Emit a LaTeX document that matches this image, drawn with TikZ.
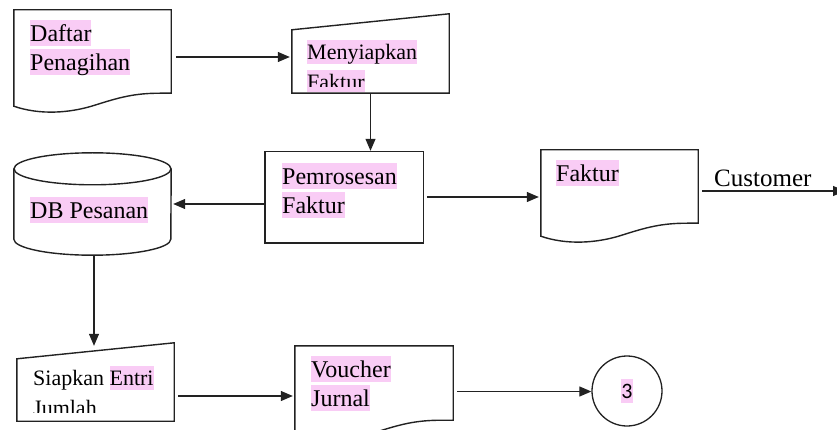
\documentclass[tikz,border=0pt]{standalone}
\usepackage{fontspec}
\setmainfont{Liberation Serif}
\newfontfamily\numfont{Carlito}
\usetikzlibrary{calc,arrows.meta}

\definecolor{hlpink}{HTML}{F9CCF5}
\definecolor{ink}{HTML}{222222}

% highlighted line and plain line share the same strut
\newcommand{\hlbox}[1]{{\setlength{\fboxsep}{0pt}\colorbox{hlpink}{\rule[-0.22em]{0pt}{1.09em}#1}}}
\newcommand{\plainln}[1]{\rule[-0.22em]{0pt}{1.09em}#1}

% document symbol with wavy bottom edge
\newcommand{\docoutline}[1]{%
  \draw[outline] ($(#1.south west)+(0,13)$) -- (#1.north west) -- (#1.north east)
    -- (#1.south east) -- ($(#1.south east)+(-11,0)$)
    .. controls ($(#1.south west)+(121,0)$) and ($(#1.south west)+(106,4)$) .. ($(#1.south west)+(81,12)$)
    .. controls ($(#1.south west)+(56,20)$) and ($(#1.south west)+(26,22)$) .. ($(#1.south west)+(0,13)$)
    -- cycle;}
% manual input symbol (sloped top edge)
\newcommand{\manualoutline}[1]{%
  \draw[outline] ($(#1.north west)+(0,16)$) -- (#1.north east) -- (#1.south east)
    -- (#1.south west) -- cycle;}

\tikzset{
  outline/.style={draw=ink, line width=1.4pt},
  body/.style={inner sep=0, minimum width=#1},
  conn/.style={draw=ink, line width=1.2pt, -{Triangle[length=12pt,width=10pt]}},
  lbl/.style={anchor=north west, inner sep=0, align=left, font=\fontsize{24}{29}\selectfont},
  lblsm/.style={lbl, font=\fontsize{22}{30}\selectfont}
}

\begin{document}
\begin{tikzpicture}[x=1pt, y=-1pt]
\useasboundingbox (0,0) rectangle (837,430);
\clip (0,0) rectangle (837,430);

% shape bodies
\node[body=157pt, minimum height=83pt] (daftar) at (92.5,51.5) {};
\node[body=157pt, minimum height=79pt] (menyi)  at (370.5,53.5) {};
\node[body=158pt, minimum height=91pt] (pemro)  at (344,197.5) {};
\node[body=157pt, minimum height=102pt] (db)    at (92.5,204) {};
\node[body=157pt, minimum height=73pt] (faktur) at (619.5,186.5) {};
\node[body=157pt, minimum height=78pt] (siap)   at (95.5,382) {};
\node[body=158pt, minimum height=74pt] (vouch)  at (374,383) {};
\node[circle, draw=ink, line width=1.3pt, minimum size=70pt, inner sep=0] (c3) at (627,391)
  {\numfont\fontsize{22}{26}\selectfont\hlbox{3}};

% outlines
\docoutline{daftar}
\manualoutline{menyi}
\draw[outline] (pemro.north west) rectangle (pemro.south east);
\docoutline{faktur}
\manualoutline{siap}
\docoutline{vouch}
\draw[outline] ($(db.north)+(0,16)$) ellipse[x radius=78.5, y radius=16];
\draw[outline] ($(db.north west)+(0,16)$) -- ($(db.south west)+(0,-16)$)
  arc[start angle=180, end angle=0, x radius=78.5, y radius=16]
  -- ($(db.north east)+(0,16)$);

% labels
\node[lbl] (daftarTxt) at (30,20) {\hlbox{Daftar}\\\hlbox{Penagihan}};
\begin{scope}
  \clip (292,14) rectangle (449,87.5);
  \node[lblsm] (menyiTxt) at (307,40) {\hlbox{Menyiapkan}\\\hlbox{Faktur}};
\end{scope}
\fill[hlpink] (307,87.5) rectangle (364.5,92.3);
\node[lbl] (pemroTxt) at (282,163) {\hlbox{Pemrosesan}\\\hlbox{Faktur}};
\node[lbl] (dbTxt) at (30,197) {\hlbox{DB Pesanan}};
\node[lbl] (fakturTxt) at (556,160) {\hlbox{Faktur}};
\begin{scope}
  \clip (17,343) rectangle (174,412.5);
  \node[lblsm] (siapTxt) at (33,366) {\plainln{Siapkan }\hlbox{Entri}\\\plainln{Jumlah}};
\end{scope}
\node[lbl] (vouchTxt) at (311,356) {\hlbox{Voucher}\\\hlbox{Jurnal}};

% connectors
\draw[conn] ($(daftar.east)+(5,5.5)$) -- ($(daftar.east -| menyi.west)+(-2,5.5)$);
\draw[conn] (menyi.south) -- ($(pemro.north -| menyi.south)+(0,-1)$);
\draw[conn] ($(pemro.west)+(0,6.5)$) -- ($(pemro.west -| db.east)+(2,6.5)$);
\draw[conn] ($(pemro.east)+(4,-0.5)$) -- ($(pemro.east -| faktur.west)+(-2,-0.5)$);
\coordinate (custEnd) at (845,191);
\draw[conn] ($(faktur.east)+(4,4.5)$) -- (custEnd);
\node[anchor=base west, inner sep=0, font=\fontsize{25}{30}\selectfont] (custLbl) at (714,187) {Customer};
\draw[conn] ($(db.south)+(1.5,1)$) -- ($(db.south |- siap.north)+(1.5,3)$);
\draw[conn] ($(siap.east)+(4,14)$) -- ($(siap.east -| vouch.west)+(-2,14)$);
\draw[conn] ($(vouch.east)+(4,8.5)$) -- ($(vouch.east -| c3.west)+(0,8.5)$);
\end{tikzpicture}
\end{document}
